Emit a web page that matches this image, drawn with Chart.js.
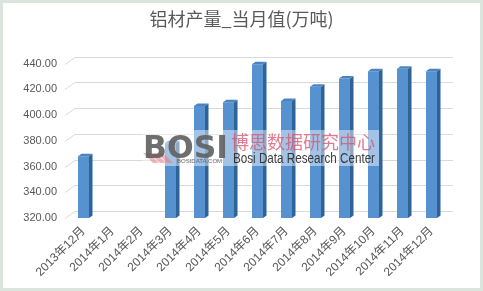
<!DOCTYPE html>
<html>
<head>
<meta charset="utf-8">
<script src="https://cdn.jsdelivr.net/npm/chart.js@4.4.1/dist/chart.umd.min.js"></script>
<style>
  body { margin: 0; background: #fff; }
  #wrap {
    width: 483px; height: 291px; box-sizing: border-box;
    border: 3px solid #dbe5de; background: #fff;
  }
  canvas { display: block; }
</style>
</head>
<body>
<div id="wrap"><canvas id="chart" width="477" height="285"></canvas></div>
<script>
// chart data
const months = ["2013年12月", "2014年1月", "2014年2月", "2014年3月", "2014年4月", "2014年5月",
    "2014年6月", "2014年7月", "2014年8月", "2014年9月", "2014年10月", "2014年11月", "2014年12月"];
const output = [368, null, null, 378, 407, 410, 439.5, 411, 422, 428.5, 434, 436, 434];
const yTicks = [320, 340, 360, 380, 400, 420, 440];

const FONT = '"Liberation Sans", "Noto Sans CJK SC", sans-serif';
const DEPTH_X = 3.5, DEPTH_Y = 2.5;   // bar side/top faces
const WALL_X = 10, WALL_Y = 7;        // back wall offset for gridlines

// gridlines on the back wall, with the slanted floor edge at the left
const wallGrid = {
    id: 'wallGrid',
    beforeDatasetsDraw(chart) {
        const { ctx, chartArea } = chart;
        const y = chart.scales.y;
        ctx.save();
        ctx.strokeStyle = '#d9d9d9';
        ctx.lineWidth = 1;
        yTicks.forEach(v => {
            const py = Math.round(y.getPixelForValue(v) - WALL_Y) + 0.5;
            ctx.beginPath();
            ctx.moveTo(chartArea.left - 4, py + WALL_Y);
            ctx.lineTo(chartArea.left - 4 + WALL_X, py);
            ctx.lineTo(chartArea.right + 7, py);
            ctx.stroke();
        });
        ctx.restore();
    }
};

// fake 3D: darker side face and a top face on every bar
const bar3d = {
    id: 'bar3d',
    afterDatasetsDraw(chart) {
        const { ctx } = chart;
        const y = chart.scales.y;
        const base = y.getPixelForValue(y.min);
        const meta = chart.getDatasetMeta(0);
        ctx.save();
        meta.data.forEach((bar, i) => {
            if (output[i] == null) return;
            const p = bar.getProps(['x', 'y', 'width'], true);
            const l = p.x - p.width / 2, r = p.x + p.width / 2;
            ctx.fillStyle = '#2f6397';
            ctx.beginPath();
            ctx.moveTo(r, p.y);
            ctx.lineTo(r + DEPTH_X, p.y - DEPTH_Y);
            ctx.lineTo(r + DEPTH_X, base - DEPTH_Y);
            ctx.lineTo(r, base);
            ctx.closePath();
            ctx.fill();
            ctx.fillStyle = '#4a84c0';
            ctx.beginPath();
            ctx.moveTo(l, p.y);
            ctx.lineTo(l + DEPTH_X, p.y - DEPTH_Y);
            ctx.lineTo(r + DEPTH_X, p.y - DEPTH_Y);
            ctx.lineTo(r, p.y);
            ctx.closePath();
            ctx.fill();
        });
        ctx.restore();
    }
};

// text squeezed to a given width
function fitText(ctx, text, x, y, w) {
    const m = ctx.measureText(text).width;
    ctx.save();
    ctx.translate(x, y);
    ctx.scale(Math.min(1, w / m), 1);
    ctx.fillText(text, 0, 0);
    ctx.restore();
}

// watermark of the source site
const watermark = {
    id: 'watermark',
    afterDraw(chart) {
        const { ctx } = chart;
        ctx.save();
        ctx.fillStyle = 'rgba(255,255,255,0.45)';
        ctx.fillRect(140, 127, 236, 36);
        ctx.fillStyle = 'rgba(230,120,130,0.55)';
        for (let k = 0; k < 3; k++) {
            ctx.beginPath();
            ctx.moveTo(140 + k * 7, 150);
            ctx.lineTo(146 + k * 7, 150);
            ctx.lineTo(156 + k * 7, 160);
            ctx.lineTo(150 + k * 7, 160);
            ctx.closePath();
            ctx.fill();
        }
        ctx.textBaseline = 'alphabetic';
        ctx.fillStyle = 'rgba(95,95,95,0.9)';
        ctx.font = 'bold 32px "DejaVu Sans"';
        fitText(ctx, 'BOSI', 140, 155, 85);
        ctx.fillStyle = 'rgba(90,90,90,0.9)';
        ctx.font = '6px "Liberation Sans"';
        ctx.fillText('BOSIDATA.COM', 174, 160);
        ctx.fillStyle = 'rgba(214,80,110,0.75)';
        ctx.font = '18px "Noto Sans CJK SC"';
        fitText(ctx, '博思数据研究中心', 228, 146, 148);
        ctx.fillStyle = 'rgba(40,40,40,0.9)';
        ctx.font = '14px "Liberation Sans"';
        fitText(ctx, 'Bosi Data Research Center', 230, 160, 142);
        ctx.restore();
    }
};

new Chart(document.getElementById('chart'), {
    type: 'bar',
    data: {
        labels: months,
        datasets: [{
            data: output,
            backgroundColor: '#5692cf',
            borderWidth: 0,
            barPercentage: 0.38,
            categoryPercentage: 1
        }]
    },
    options: {
        responsive: false,
        animation: false,
        layout: { padding: 0 },
        plugins: {
            legend: { display: false },
            tooltip: { enabled: false },
            title: {
                display: true,
                text: '铝材产量_当月值(万吨)',
                color: '#595959',
                font: { family: '"Noto Sans CJK SC", sans-serif', size: 18, weight: 'normal' },
                padding: { top: 5, bottom: 34 }
            }
        },
        scales: {
            y: {
                min: 320,
                max: 440,
                grid: { display: false, drawTicks: false },
                border: { display: false },
                afterFit: s => { s.width = 66; },
                afterBuildTicks: s => { s.ticks = yTicks.map(v => ({ value: v })); },
                ticks: {
                    padding: 12,
                    color: '#595959',
                    font: { family: FONT, size: 11 },
                    callback: v => v.toFixed(2)
                }
            },
            // empty right axis, only keeps room on the right
            yRight: {
                position: 'right',
                grid: { display: false, drawTicks: false },
                border: { display: false },
                ticks: { display: false },
                afterFit: s => { s.width = 34; }
            },
            x: {
                grid: { display: false, drawTicks: false },
                border: { display: false },
                afterFit: s => { s.height = 70; },
                ticks: {
                    autoSkip: false,
                    minRotation: 45,
                    maxRotation: 45,
                    padding: 6,
                    color: '#595959',
                    font: { family: FONT, size: 12 }
                }
            }
        }
    },
    plugins: [wallGrid, bar3d, watermark]
});
</script>
</body>
</html>
